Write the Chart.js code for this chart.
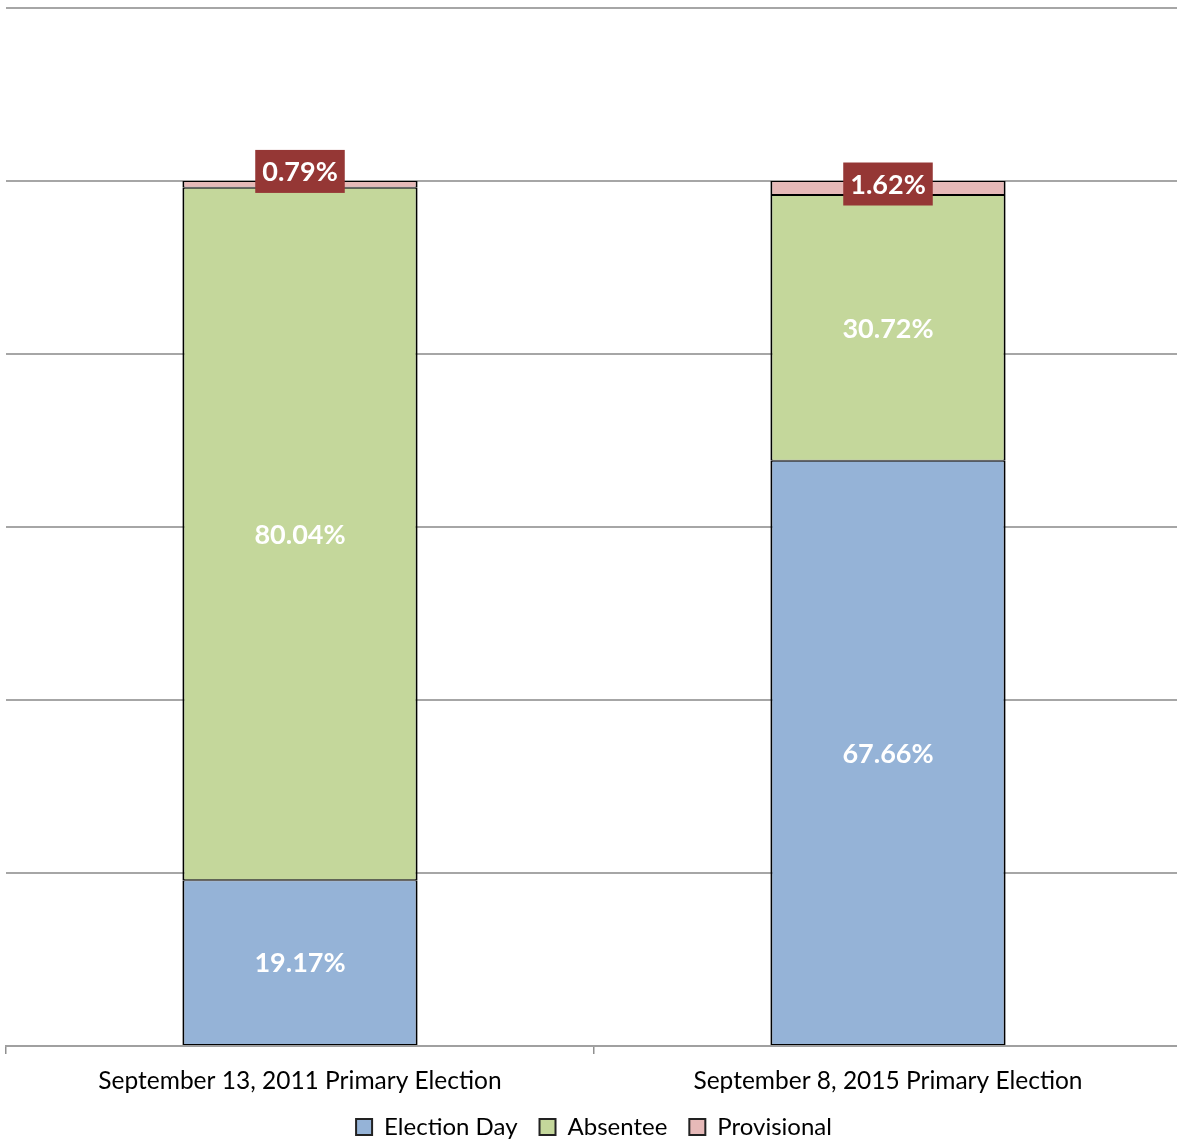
<!DOCTYPE html>
<html>
<head>
<meta charset="utf-8">
<script src="https://cdn.jsdelivr.net/npm/chart.js@4"></script>
<style>
  html, body { margin: 0; padding: 0; background: #fff; overflow: hidden; }
  #wrap { width: 1177px; height: 1139px; overflow: hidden; }
</style>
</head>
<body>
<div id="wrap"><canvas id="Grafico" width="1182" height="1139"></canvas></div>
<script>
const labels = ['September 13, 2011 Primary Election', 'September 8, 2015 Primary Election'];
const electionDay = [19.17, 67.66];
const absentee = [80.04, 30.72];
const provisional = [0.79, 1.62];
const yTicks = [0, 20, 40, 60, 80, 100, 120];

// the provisional box labels sit a bit above their thin segments
const boxShift = [-13, -4];

const valueLabels = {
    id: 'valueLabels',
    afterDatasetsDraw(chart) {
        const ctx = chart.ctx;
        ctx.save();
        ctx.font = 'bold 27px Lato';
        ctx.textAlign = 'center';
        ctx.textBaseline = 'middle';
        chart.data.datasets.forEach(function(ds, i) {
            const meta = chart.getDatasetMeta(i);
            meta.data.forEach(function(bar, j) {
                const txt = ds.data[j].toFixed(2) + '%';
                const cy = (bar.y + bar.base) / 2;
                if (ds.label === 'Provisional') {
                    const w = ctx.measureText(txt).width + 14;
                    const y = cy + boxShift[j];
                    ctx.fillStyle = '#953735';
                    ctx.fillRect(bar.x - w / 2, y - 21.5, w, 43);
                    ctx.fillStyle = '#ffffff';
                    ctx.fillText(txt, bar.x, y + 1);
                } else {
                    ctx.fillStyle = '#ffffff';
                    ctx.fillText(txt, bar.x, cy + 1);
                }
            });
        });
        ctx.restore();
    }
};

// keep the legend strip short so the axis sits where it should
const legendFit = {
    id: 'legendFit',
    beforeLayout(chart) {
        const lg = chart.legend;
        if (lg && !lg._patched) {
            const fit = lg.fit;
            lg.fit = function() {
                fit.call(this);
                this.height = 46;
            };
            lg._patched = true;
        }
    }
};

const contexto = document.getElementById('Grafico').getContext('2d');

const data = {
    labels,
    datasets: [
        { label: 'Election Day', data: electionDay, backgroundColor: '#95b3d7' },
        { label: 'Absentee', data: absentee, backgroundColor: '#c4d79b' },
        { label: 'Provisional', data: provisional, backgroundColor: '#e6b9b8' }
    ].map(function(d) {
        return Object.assign(d, {
            borderColor: '#000000',
            borderWidth: { top: 1, bottom: 1, left: 2, right: 2 },
            borderSkipped: false,
            barPercentage: 0.4,
            categoryPercentage: 1
        });
    })
};

const config = {
    type: 'bar',
    data,
    options: {
        responsive: false,
        animation: false,
        layout: { padding: { left: 6, top: 8, right: 0, bottom: 0 } },
        plugins: {
            tooltip: { enabled: false },
            legend: {
                position: 'bottom',
                labels: {
                    font: { family: 'Lato', size: 24 },
                    color: '#000',
                    boxWidth: 16,
                    boxHeight: 16,
                    padding: 22,
                    generateLabels(chart) {
                        return chart.data.datasets.map(function(ds, i) {
                            return {
                                text: ds.label,
                                fillStyle: ds.backgroundColor,
                                strokeStyle: '#222',
                                lineWidth: 2,
                                datasetIndex: i
                            };
                        });
                    }
                }
            }
        },
        scales: {
            x: {
                stacked: true,
                afterFit(scale) {
                    scale.height = 47;
                },
                grid: {
                    offset: true,
                    drawOnChartArea: false,
                    color: '#909090',
                    tickLength: 8,
                    lineWidth: 1.5
                },
                border: { color: '#a0a0a0', width: 2 },
                ticks: {
                    font: { family: 'Lato', size: 24.5, lineHeight: 1 },
                    color: '#000',
                    padding: 15
                }
            },
            y: {
                stacked: true,
                min: yTicks[0],
                max: yTicks[yTicks.length - 1],
                afterBuildTicks(axis) {
                    axis.ticks = yTicks.map(function(v) { return { value: v }; });
                },
                ticks: { display: false },
                grid: { color: '#a6a6a6', lineWidth: 2, drawTicks: false },
                border: { display: false }
            }
        }
    },
    plugins: [valueLabels, legendFit]
};

const Grafico = new Chart(contexto, config);
</script>
</body>
</html>
